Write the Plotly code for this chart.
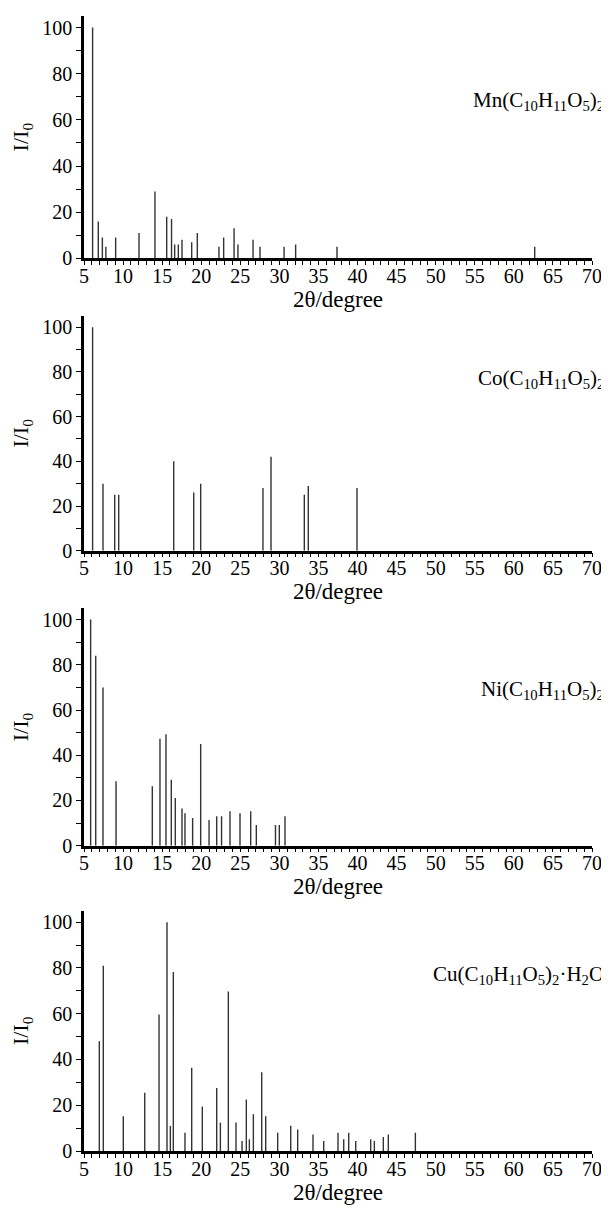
import plotly.graph_objects as go
from plotly.subplots import make_subplots

mn_2theta = [6.1, 6.83, 7.35, 7.8, 9.05, 12.04, 14.08, 15.58, 16.2, 16.6, 17.07, 17.54, 18.78, 19.5,
             22.27, 22.87, 24.2, 24.7, 26.63, 27.52, 30.6, 32.08, 37.37, 62.67]
mn_int = [100, 16, 9, 5, 9, 11, 29, 18, 17, 6, 6, 8, 7, 11, 5, 9, 13, 6, 8, 5, 5, 6, 5, 5]

co_2theta = [6.1, 7.43, 8.93, 9.44, 16.48, 19.04, 19.93, 27.9, 28.93, 33.19, 33.7, 39.93]
co_int = [100, 30, 25, 25, 40, 26, 30, 28, 42, 25, 29, 28]

ni_2theta = [5.85, 6.5, 7.43, 9.1, 13.74, 14.72, 15.49, 16.17, 16.68, 17.54, 17.92, 18.9, 19.93,
             21.0, 21.98, 22.6, 23.68, 24.96, 26.33, 27.05, 29.5, 29.99, 30.72]
ni_int = [100, 84, 70, 28.5, 26.3, 47.3, 49.3, 29.2, 21.1, 16.5, 14.3, 12.3, 45, 11.4, 13, 13,
          15.2, 14.3, 15.2, 9.2, 9.2, 9.2, 13]

cu_2theta = [6.96, 7.47, 10.03, 12.77, 14.6, 15.62, 16.05, 16.43, 17.92, 18.78, 20.14, 21.98, 22.45,
             23.47, 24.45, 25.22, 25.77, 26.16, 26.67, 27.74, 28.25, 29.78, 31.45, 32.34, 34.3, 35.67,
             37.5, 38.23, 38.87, 39.77, 41.68, 42.15, 43.3, 43.94, 47.4]
cu_int = [48, 81, 15.2, 25.4, 59.6, 100, 11, 78.2, 8, 36.4, 19.4, 27.5, 12.4, 69.7, 12.4, 4.4, 22.5,
          5.1, 16.1, 34.4, 15.2, 8, 11, 9.4, 7.2, 4.4, 8, 5.1, 8, 4.4, 5.1, 4.4, 6.1, 7.2, 8]

labels = [
    "Mn(C<sub>10</sub>H<sub>11</sub>O<sub>5</sub>)<sub>2</sub>",
    "Co(C<sub>10</sub>H<sub>11</sub>O<sub>5</sub>)<sub>2</sub>",
    "Ni(C<sub>10</sub>H<sub>11</sub>O<sub>5</sub>)<sub>2</sub>",
    "Cu(C<sub>10</sub>H<sub>11</sub>O<sub>5</sub>)<sub>2</sub>·H<sub>2</sub>O",
]
label_y = [68, 77, 69, 77]

x_title = "2θ/degree"
y_title = "I/I<sub>0</sub>"

series = [(mn_2theta, mn_int), (co_2theta, co_int), (ni_2theta, ni_int), (cu_2theta, cu_int)]

FONT = "Liberation Serif, Times New Roman, serif"

# page body has an 8px default margin: figure is shifted by (8, 8)
W, H = 601, 1199
ML, MR, MT, MB = 76, 17, 8, 56
PH = H - MT - MB  # plot-area height in px


def dom(top_px, bot_px):
    # page-pixel positions -> paper fractions
    base = H - MB + 8
    return [(base - bot_px) / PH, min(1.0, (base - top_px) / PH)]


domains = [dom(16, 258.3), dom(316, 550.7), dom(608.3, 845.7), dom(910.7, 1151)]

fig = make_subplots(rows=4, cols=1)

for i, (xs, ys) in enumerate(series):
    lx, ly = [], []
    for xv, yv in zip(xs, ys):
        lx += [xv, xv, None]
        ly += [0, yv, None]
    fig.add_trace(go.Scatter(x=lx, y=ly, mode="lines",
                             line=dict(color="#333333", width=1.4),
                             showlegend=False, hoverinfo="skip"),
                  row=i + 1, col=1)
    xa = "xaxis" if i == 0 else f"xaxis{i+1}"
    ya = "yaxis" if i == 0 else f"yaxis{i+1}"
    fig.layout[ya].update(domain=domains[i])
    fig.layout[xa].update(
        range=[5, 70], dtick=5, tick0=5, showline=True, linecolor="black", linewidth=2.5,
        ticks="outside", ticklen=4, tickwidth=1, tickcolor="black", ticklabelstandoff=-6,
        minor=dict(dtick=1, ticks="outside", ticklen=4, tickcolor="black", tickwidth=1),
        showgrid=False, zeroline=False,
        tickfont=dict(family=FONT, size=20, color="black"),
        title=dict(text=x_title, font=dict(family=FONT, size=23, color="black"), standoff=1),
    )
    fig.layout[ya].update(
        range=[0, 105], tickvals=[0, 20, 40, 60, 80, 100], showline=True, linecolor="black",
        linewidth=2.5, ticks="outside", ticklen=5, tickwidth=1, tickcolor="black",
        minor=dict(tickvals=[10, 30, 50, 70, 90], ticks="outside", ticklen=5, tickcolor="black", tickwidth=1),
        showgrid=False, zeroline=False,
        tickfont=dict(family=FONT, size=20, color="black"),
        title=dict(text=y_title, font=dict(family=FONT, size=22, color="black"), standoff=8),
    )
    xref = "x" if i == 0 else f"x{i+1}"
    yref = "y" if i == 0 else f"y{i+1}"
    fig.add_annotation(text=labels[i], xref=f"{xref} domain", yref=yref, x=1, y=label_y[i],
                       xanchor="right", yanchor="middle", xshift=14, showarrow=False,
                       font=dict(family=FONT, size=21, color="black"))

fig.update_layout(
    width=W, height=H,
    margin=dict(l=ML, r=MR, t=MT, b=MB),
    plot_bgcolor="white", paper_bgcolor="white",
    font=dict(family=FONT, color="black"),
)

fig.write_html("out.html")
